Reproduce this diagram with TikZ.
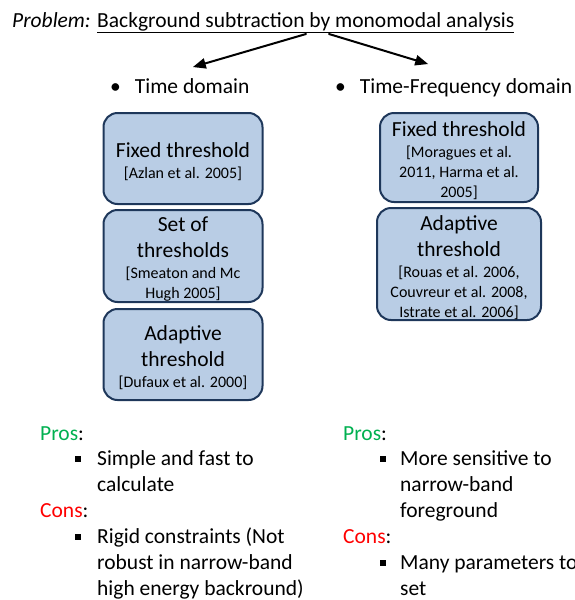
\documentclass[tikz,border=0pt]{standalone}
\usepackage{fontspec}
\setmainfont{Carlito}
\usetikzlibrary{arrows}
\definecolor{boxfill}{RGB}{185,205,229}
\definecolor{boxline}{RGB}{30,55,90}
\definecolor{prosgreen}{RGB}{0,176,80}
\definecolor{consred}{RGB}{255,0,0}
\newcommand{\txtbig}{\fontsize{21.5}{26}\selectfont}
\newcommand{\txtref}{\fontsize{16}{20}\selectfont}

\begin{document}
\begin{tikzpicture}[line cap=round,line join=round,>=triangle 45,x=1pt,y=-1pt,
    thr/.style={draw=boxline, fill=boxfill, line width=2pt, rounded corners=14pt, inner sep=0pt},
    thrtxt/.style={align=center, inner sep=0pt, font=\txtbig},
    txt/.style={anchor=base west, inner sep=0pt, font=\txtbig, align=left},
    sqb/.style={fill=black, minimum size=6.5pt, inner sep=0pt}]
    \useasboundingbox (0,0) rectangle (575,600);

    % title and the two branches
    \node[txt] (prob) at (12,27) {\textit{Problem:} \underline{Background subtraction by monomodal analysis}};
    \coordinate (splitL) at (306,34);
    \coordinate (splitR) at (329,34);
    \node[txt] (timeDom) at (110,93) {\textbullet\hspace{14pt}Time domain};
    \node[txt] (freqDom) at (335,93) {\textbullet\hspace{14pt}Time-Frequency domain};
    \coordinate (endL) at (193,67);
    \coordinate (endR) at (428,64);
    \draw[->, line width=2pt] (splitL) -- (endL);
    \draw[->, line width=2pt] (splitR) -- (endR);

    % time domain
    \node[thr, minimum width=159pt, minimum height=91pt] (fixT) at (183,158.5) {};
    \node[thrtxt] (fixTtxt) at ([yshift=-3.5pt]fixT.center) {Fixed threshold\\[-5pt]{\txtref [Azlan et al. 2005]}};
    \node[thr, minimum width=159pt, minimum height=92pt] (setT) at (183,256) {};
    \node[thrtxt] (setTtxt) at ([yshift=-3.5pt]setT.center) {Set of\\thresholds\\[-5pt]{\txtref [Smeaton and Mc}\\[-6pt]{\txtref Hugh 2005]}};
    \node[thr, minimum width=159pt, minimum height=91pt] (adaT) at (183,354.5) {};
    \node[thrtxt] (adaTtxt) at ([yshift=-3.5pt]adaT.center) {Adaptive\\threshold\\[-5pt]{\txtref [Dufaux et al. 2000]}};

    % time-frequency domain
    \node[thr, minimum width=158pt, minimum height=89pt] (fixF) at (459,157.5) {};
    \node[thrtxt] (fixFtxt) at ([yshift=-3.5pt]fixF.center) {Fixed threshold\\[-5pt]{\txtref [Moragues et al.}\\[-6pt]{\txtref 2011, Harma et al.}\\[-6pt]{\txtref 2005]}};
    \node[thr, minimum width=164pt, minimum height=112pt] (adaF) at (459,264) {};
    \node[thrtxt] (adaFtxt) at ([yshift=-4pt]adaF.center) {Adaptive\\threshold\\[-5pt]{\txtref [Rouas et al. 2006,}\\[-6pt]{\txtref Couvreur et al. 2008,}\\[-6pt]{\txtref Istrate et al. 2006]}};

    % pros and cons
    \node[txt] (prosT) at (40,440) {\textcolor{prosgreen}{Pros}:};
    \node[sqb] (sqT1) at (78,459) {};
    \node[txt] (itemT1) at (97,491) {Simple and fast to\\calculate};
    \node[txt] (consT) at (40,517) {\textcolor{consred}{Cons}:};
    \node[sqb] (sqT2) at (78,537) {};
    \node[txt] (itemT2) at (97,595) {Rigid constraints (Not\\robust in narrow-band\\high energy backround)};

    \node[txt] (prosF) at (343,440) {\textcolor{prosgreen}{Pros}:};
    \node[sqb] (sqF1) at (383,459) {};
    \node[txt] (itemF1) at (400,517) {More sensitive to\\narrow-band\\foreground};
    \node[txt] (consF) at (343,543) {\textcolor{consred}{Cons}:};
    \node[sqb] (sqF2) at (383,563) {};
    \node[txt] (itemF2) at (400,595) {Many parameters to\\set};
\end{tikzpicture}
\end{document}
